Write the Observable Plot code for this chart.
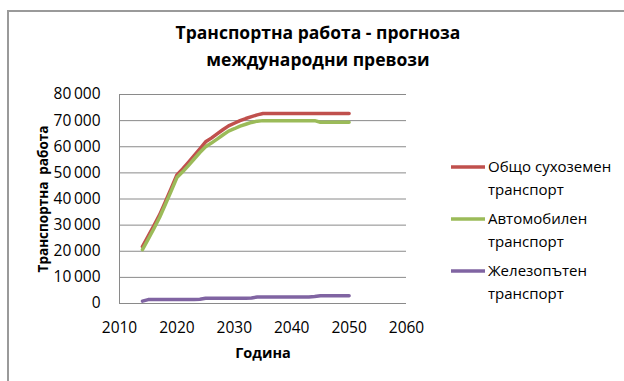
<!DOCTYPE html>
<html>
<head>
<meta charset="utf-8">
<script src="https://cdn.jsdelivr.net/npm/d3@7"></script>
<script src="https://cdn.jsdelivr.net/npm/@observablehq/plot@0.6"></script>
<style>
  html, body { margin: 0; padding: 0; background: #fff; overflow: hidden; }
  #wrap { position: relative; width: 624px; height: 381px; font-family: "Open Sans", sans-serif; color: #000; }
  #frame { position: absolute; left: 7px; top: 10px; width: 700px; height: 420px; border: 2px solid #9a9a9a; box-sizing: border-box; }
  #chart { position: absolute; left: 0; top: 0; }
  .title { position: absolute; left: 118px; width: 400px; text-align: center; font-weight: bold; font-size: 17.5px; line-height: 27px; top: 19px; }
  .leg { position: absolute; left: 450px; font-size: 15px; line-height: 23px; }
  .leg svg { position: absolute; left: 0; top: 6px; }
  .leg div { position: absolute; left: 38px; top: -1px; white-space: nowrap; }
</style>
</head>
<body>
<div id="wrap">
  <div id="frame"></div>
  <div id="chart"></div>
  <div class="title">Транспортна работа - прогноза<br>международни превози</div>
  <div id="legend"></div>
</div>
<script>
const years = [2014,2015,2016,2017,2018,2019,2020,2021,2022,2023,2024,2025,2026,2027,2028,2029,2030,2031,2032,2033,2034,2035,2036,2037,2038,2039,2040,2041,2042,2043,2044,2045,2046,2047,2048,2049,2050];
const total = [21800,25800,29800,34000,39000,44000,49200,51500,54000,56600,59200,61900,63300,64900,66500,68000,69000,70000,70800,71500,72200,72700,72700,72700,72700,72700,72700,72700,72700,72700,72700,72700,72700,72700,72700,72700,72700];
const road  = [20600,24600,28700,33000,38000,43000,48200,50400,52800,55300,57800,60000,61400,62900,64500,66000,66900,67900,68600,69300,69800,70000,70000,70000,70000,70000,70000,70000,70000,70000,70000,69400,69400,69400,69400,69400,69400];
const rail  = [900,1500,1500,1500,1500,1500,1500,1500,1500,1500,1600,2000,2000,2000,2000,2000,2000,2000,2000,2100,2500,2500,2500,2500,2500,2500,2500,2500,2500,2500,2700,3000,3000,3000,3000,3000,3000];
const seriesNames = ["Общо сухоземен транспорт", "Автомобилен транспорт", "Железопътен транспорт"];
const seriesColors = ["#C0504D", "#9BBB59", "#8064A2"];
const yTicks = [0,10000,20000,30000,40000,50000,60000,70000,80000];
const xTicks = [2010,2020,2030,2040,2050,2060];
const yTitle = "Транспортна  работа";
const xTitle = "Година";

const allSeries = [total, road, rail];
const data = [];
allSeries.forEach((vals, i) => vals.forEach((v, j) => data.push({year: years[j], value: v, series: seriesNames[i]})));

const fmt = v => d3.format(",")(v).replace(/,/g, "\u2009");

const chart = Plot.plot({
  width: 624,
  height: 381,
  marginLeft: 119,
  marginRight: 218,
  marginTop: 94,
  marginBottom: 78,
  style: {fontFamily: "Open Sans, sans-serif", fontSize: "15px", color: "#000", background: "transparent"},
  x: {domain: [2010, 2060], ticks: xTicks, tickFormat: d => String(d)},
  y: {domain: [0, 80000], ticks: yTicks, tickFormat: fmt},
  color: {domain: seriesNames, range: seriesColors},
  marks: [
    Plot.gridY(yTicks, {stroke: "#8a8a8a", strokeOpacity: 1, strokeWidth: 1}),
    Plot.ruleX([2010], {stroke: "#8a8a8a", strokeWidth: 1}),
    Plot.ruleY([0], {stroke: "#8a8a8a", strokeWidth: 1}),
    Plot.axisY({ticks: yTicks, tickFormat: fmt, tickSize: 0, tickPadding: 19, label: null, fontSize: 15.5}),
    Plot.axisX({ticks: xTicks, tickFormat: d => String(d), tickSize: 0, tickPadding: 18, label: null, fontSize: 15.5}),
    Plot.line(data, {x: "year", y: "value", z: "series", stroke: "series", strokeWidth: 3.5, strokeLinejoin: "round", strokeLinecap: "round"}),
    Plot.text([yTitle], {frameAnchor: "left", textAnchor: "middle", dx: -76, rotate: -90, fontWeight: "bold", fontSize: 13.5, text: d => d}),
    Plot.text([xTitle], {frameAnchor: "bottom", dy: 54, fontWeight: "bold", fontSize: 14.5, text: d => d})
  ]
});
document.getElementById("chart").appendChild(chart);

const legend = document.getElementById("legend");
const legTops = [156, 208, 260];
seriesNames.forEach((name, i) => {
  const el = document.createElement("div");
  el.className = "leg";
  el.style.top = legTops[i] + "px";
  const k = name.lastIndexOf(" ");
  el.innerHTML = `<svg width="36" height="10"><line x1="1" y1="5" x2="35" y2="5" stroke="${seriesColors[i]}" stroke-width="3.5"/></svg><div>${name.slice(0, k)}<br>${name.slice(k + 1)}</div>`;
  legend.appendChild(el);
});
</script>
</body>
</html>
